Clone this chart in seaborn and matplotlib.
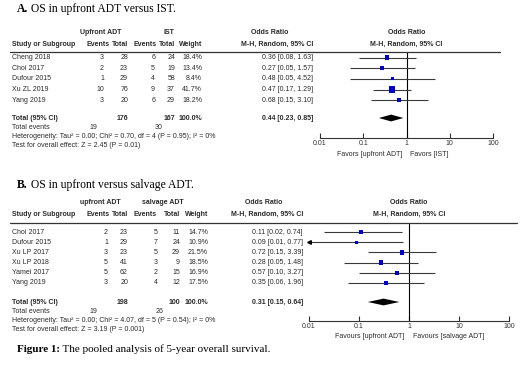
import numpy as np
import matplotlib.pyplot as plt
from matplotlib.lines import Line2D
import seaborn as sns

W, H = 520, 369

# A. upfront ADT vs IST
a_study = ['Cheng 2018', 'Choi 2017', 'Dufour 2015', 'Xu ZL 2019', 'Yang 2019']
a_ev1 = [3, 2, 1, 10, 3]
a_tot1 = [28, 23, 29, 76, 20]
a_ev2 = [6, 5, 4, 9, 6]
a_tot2 = [24, 19, 58, 37, 29]
a_weight = [18.4, 13.4, 8.4, 41.7, 18.2]
a_or = [0.36, 0.27, 0.48, 0.47, 0.68]
a_lo = [0.08, 0.05, 0.05, 0.17, 0.15]
a_hi = [1.63, 1.57, 4.52, 1.29, 3.10]
a_pooled = [0.44, 0.23, 0.85]
a_totals = [176, 167]
a_events = [19, 30]
a_het = 'Heterogeneity: Tau² = 0.00; Chi² = 0.70, df = 4 (P = 0.95); I² = 0%'
a_test = 'Test for overall effect: Z = 2.45 (P = 0.01)'

# B. upfront vs salvage ADT
b_study = ['Choi 2017', 'Dufour 2015', 'Xu LP 2017', 'Xu LP 2018', 'Yamei 2017', 'Yang 2019']
b_ev1 = [2, 1, 3, 5, 5, 3]
b_tot1 = [23, 29, 23, 41, 62, 20]
b_ev2 = [5, 7, 5, 3, 2, 4]
b_tot2 = [11, 24, 29, 9, 15, 12]
b_weight = [14.7, 10.9, 21.5, 18.5, 16.9, 17.5]
b_or = [0.11, 0.09, 0.72, 0.28, 0.57, 0.35]
b_lo = [0.02, 0.01, 0.15, 0.05, 0.10, 0.06]
b_hi = [0.74, 0.77, 3.39, 1.48, 3.27, 1.96]
b_pooled = [0.31, 0.15, 0.64]
b_totals = [198, 100]
b_events = [19, 26]
b_het = 'Heterogeneity: Tau² = 0.00; Chi² = 4.07, df = 5 (P = 0.54); I² = 0%'
b_test = 'Test for overall effect: Z = 3.19 (P = 0.001)'

ticks = [0.01, 0.1, 1, 10, 100]
tick_labels = ['0.01', '0.1', '1', '10', '100']

sns.set_style('white')
plt.rcParams['font.family'] = ['Liberation Sans', 'DejaVu Sans']

fig = plt.figure(figsize=(5.2, 3.69), dpi=100)
fig.patch.set_facecolor('white')
renderer = fig.canvas.get_renderer()

FS = 5.05
TC = '#2a2a2a'
BLUE = '#0000cc'


def ftxt(x, y, s, **kw):
    kw.setdefault('fontsize', FS)
    kw.setdefault('color', TC)
    return fig.text(x / W, 1 - y / H, s, va='center', **kw)


def two_part(x, y, bold, rest, size):
    t = ftxt(x, y, bold, fontsize=size, color='black', family='Liberation Serif', weight='bold')
    bb = t.get_window_extent(renderer)
    ftxt(bb.x1, y, rest, fontsize=size, color='black', family='Liberation Serif')


def panel(title, grp1, grp2, study, ev1, tot1, ev2, tot2, weight, orr, lo, hi,
          pooled, totals, events, het, test, fav1, fav2, L):
    two_part(17, L['title'], title[0], title[1], 8.4)
    # headers
    ftxt(L['g1'], L['h1'], grp1, ha='center', weight='bold')
    ftxt(L['g2'], L['h1'], grp2, ha='center', weight='bold')
    ftxt(L['orh'], L['h1'], 'Odds Ratio', ha='center', weight='bold')
    ftxt((L['ax0'] + L['ax1']) / 2, L['h1'], 'Odds Ratio', ha='center', weight='bold')
    ftxt(12, L['h2'], 'Study or Subgroup', weight='bold')
    ftxt(110, L['h2'], 'Events', ha='right', weight='bold')
    ftxt(128, L['h2'], 'Total', ha='right', weight='bold')
    ftxt(157, L['h2'], 'Events', ha='right', weight='bold')
    ftxt(L['c_t2'], L['h2'], 'Total', ha='right', weight='bold')
    ftxt(L['c_w'], L['h2'], 'Weight', ha='right', weight='bold')
    ftxt(L['c_or'], L['h2'], 'M-H, Random, 95% CI', ha='right', weight='bold')
    ftxt((L['ax0'] + L['ax1']) / 2, L['h2'], 'M-H, Random, 95% CI', ha='center', weight='bold')
    fig.add_artist(Line2D([10 / W, L['lineend'] / W], [1 - L['hl'] / H] * 2, lw=0.9, color='#333333'))

    rows = [L['r0'] + i * L['step'] for i in range(len(study))]
    for i, y in enumerate(rows):
        ftxt(12, y, study[i])
        ftxt(L['c_e1'], y, str(ev1[i]), ha='right')
        ftxt(128, y, str(tot1[i]), ha='right')
        ftxt(L['c_e2'], y, str(ev2[i]), ha='right')
        ftxt(L['c_t2'], y, str(tot2[i]), ha='right')
        ftxt(L['c_w'], y, f'{weight[i]:.1f}%', ha='right')
        ftxt(L['c_or'], y, f'{orr[i]:.2f} [{lo[i]:.2f}, {hi[i]:.2f}]', ha='right')
    yt = L['tot']
    ftxt(12, yt, 'Total (95% CI)', weight='bold')
    ftxt(128, yt, str(totals[0]), ha='right', weight='bold')
    ftxt(L['c_t2'], yt, str(totals[1]), ha='right', weight='bold')
    ftxt(L['c_w'], yt, '100.0%', ha='right', weight='bold')
    ftxt(L['c_or'], yt, f'{pooled[0]:.2f} [{pooled[1]:.2f}, {pooled[2]:.2f}]', ha='right', weight='bold')
    ftxt(12, yt + L['s2'], 'Total events')
    ftxt(97, yt + L['s2'], str(events[0]), ha='right')
    ftxt(163, yt + L['s2'], str(events[1]), ha='right')
    ftxt(12, yt + 2 * L['s2'], het)
    ftxt(12, yt + 3 * L['s2'], test)

    # forest axes in pixel y units
    ax = fig.add_axes([L['ax0'] / W, 1 - L['axis'] / H, (L['ax1'] - L['ax0']) / W,
                       (L['axis'] - L['hl']) / H])
    ax.set_xscale('log')
    ax.set_xlim(ticks[0], ticks[-1])
    ax.set_ylim(L['axis'], L['hl'])
    ax.patch.set_alpha(0)
    ax.axvline(1, color='black', lw=0.8)
    xmin = ax.get_xlim()[0]
    ax.hlines(rows, np.maximum(lo, xmin), hi, color='#3a3a3a', lw=0.8)
    for y, l in zip(rows, lo):
        if l <= xmin:
            ax.plot(xmin, y, marker='<', ms=2.6, color='black', clip_on=False)
    k = 0.5
    sns.scatterplot(x=orr, y=rows, size=weight, sizes=(min(weight) * k, max(weight) * k),
                    marker='s', color=BLUE, linewidth=0, legend=False, ax=ax, zorder=3)
    h = 3.4
    ax.fill([pooled[1], pooled[0], pooled[2], pooled[0]], [yt, yt - h, yt, yt + h],
            color='black', lw=0)
    for s in ['top', 'left', 'right']:
        ax.spines[s].set_visible(False)
    ax.spines['bottom'].set_color('#333333')
    ax.spines['bottom'].set_linewidth(0.8)
    ax.set_xticks(ticks)
    ax.set_xticklabels(tick_labels)
    ax.minorticks_off()
    ax.set_yticks([])
    ax.tick_params(axis='x', direction='in', length=3.5, width=0.8, labelsize=FS,
                   colors='#333333', pad=1.5, bottom=True)
    ftxt(L['fav1'], L['fav'], fav1, ha='right')
    ftxt(L['fav2'], L['fav'], fav2, ha='left')


panel(('A.', ' OS in upfront ADT versus IST.'), 'Upfront ADT', 'IST',
      a_study, a_ev1, a_tot1, a_ev2, a_tot2, a_weight, a_or, a_lo, a_hi,
      a_pooled, a_totals, a_events, a_het, a_test,
      'Favors [upfront ADT]', 'Favors [IST]',
      dict(title=9, h1=33, h2=44, hl=52, lineend=500, r0=57.5, step=10.7, tot=118, s2=9.3,
           g1=101, g2=169, orh=270, c_e1=104, c_e2=155, c_t2=175, c_w=202, c_or=313,
           ax0=320, ax1=493, axis=138, fav=155, fav1=402, fav2=410))

panel(('B.', ' OS in upfront versus salvage ADT.'), 'upfront ADT', 'salvage ADT',
      b_study, b_ev1, b_tot1, b_ev2, b_tot2, b_weight, b_or, b_lo, b_hi,
      b_pooled, b_totals, b_events, b_het, b_test,
      'Favours [upfront ADT]', 'Favours [salvage ADT]',
      dict(title=185, h1=203, h2=214, hl=223, lineend=517, r0=232, step=10.2, tot=302, s2=9.3,
           g1=100, g2=163, orh=264, c_e1=108, c_e2=158, c_t2=180, c_w=208, c_or=303,
           ax0=309, ax1=509, axis=321, fav=336, fav1=404, fav2=413))

two_part(17, 349, 'Figure 1:', ' The pooled analysis of 5-year overall survival.', 8)

fig.savefig('out.png', dpi=100, facecolor='white')
